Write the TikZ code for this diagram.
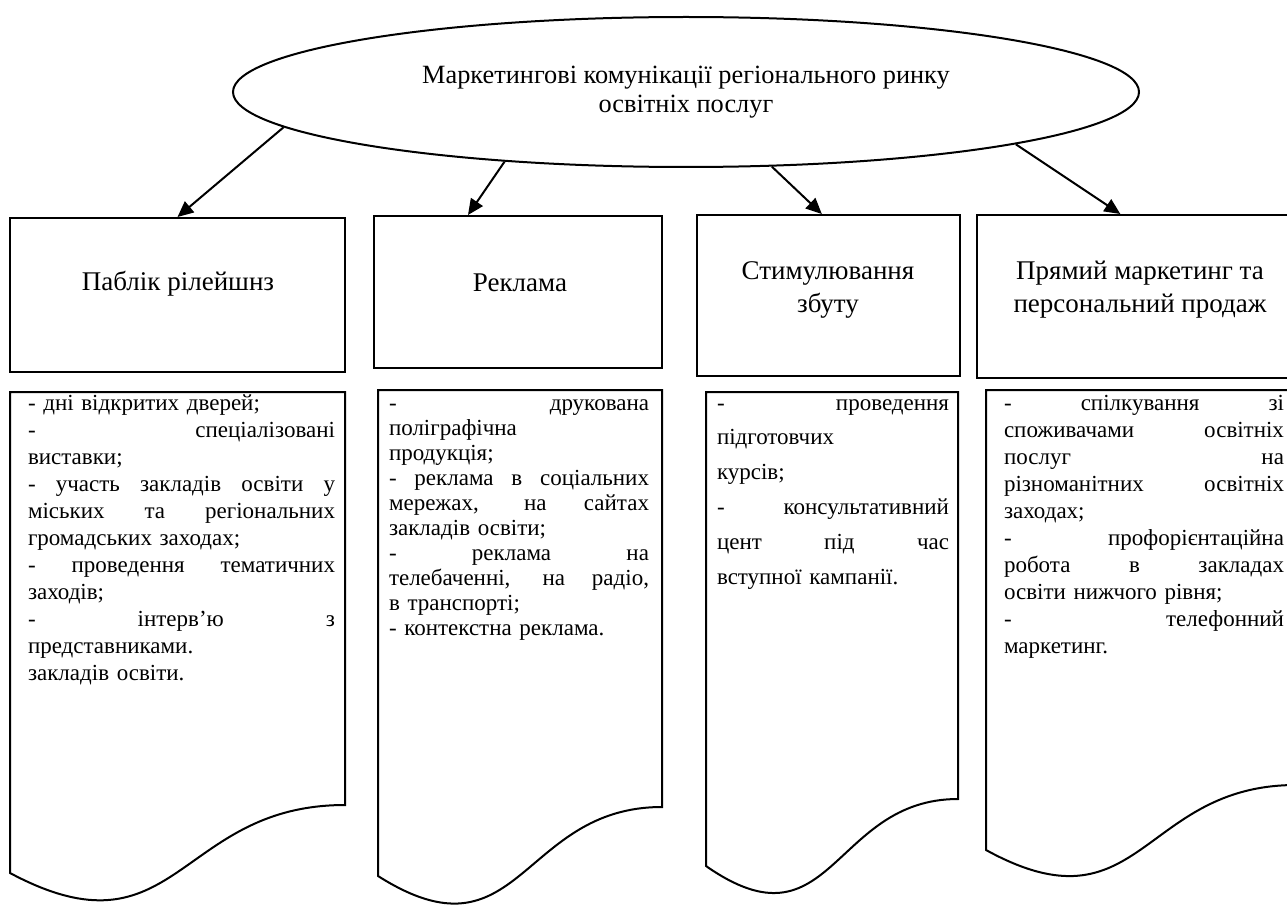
\documentclass[tikz,border=0pt]{standalone}
\usepackage{fontspec}
\setmainfont{Liberation Serif}
\usetikzlibrary{shapes.geometric,arrows.meta}

\newlength{\px}\setlength{\px}{0.6pt}
% one justified line of a list
\newcommand{\jl}[1]{\makebox[\hsize][s]{\spaceskip=0pt\xspaceskip=0pt #1}\\}

\begin{document}
\begin{tikzpicture}[x=0.6pt, y=-0.6pt,
    line width=1.2pt,
    ell/.style={draw, ellipse, minimum width=906\px, minimum height=150\px, inner sep=0pt,
        align=center, font=\fontsize{15.8}{17.4}\selectfont},
    head/.style={draw, rectangle, inner sep=0pt},
    headtext/.style={align=center, font=\fontsize{16.2}{19.8}\selectfont},
    list/.style={anchor=base west, align=left, inner sep=0pt, font=\fontsize{13.8}{16.2}\selectfont},
    arr/.style={-{Triangle[length=9.5pt, width=8.5pt]}}]
    \useasboundingbox (0,0) rectangle (1287,907);

    % top
    \node[ell] (mc) at (686,92) {Маркетингові комунікації регіонального ринку\\освітніх послуг};

    % four kinds
    \node[head, minimum width=335\px, minimum height=154\px] (pr) at (177.5,295) {};
    \node[head, minimum width=288\px, minimum height=152\px] (rk) at (518,292) {};
    \node[head, minimum width=263\px, minimum height=161\px] (sz) at (828.5,295.5) {};
    \node[head, minimum width=320\px, minimum height=163\px] (pm) at (1137,296.5) {};
    \node[headtext] (prt) at (178,284) {Паблік рілейшнз};
    \node[headtext] (rkt) at (520,283) {Реклама};
    \node[headtext] (szt) at (828,290) {Стимулювання\\збуту};
    \node[headtext] (pmt) at (1140,290) {Прямий маркетинг та\\персональний продаж};

    \draw[arr] (mc.185) -- (pr.north);
    \draw[arr] (mc.201.6) -- ([xshift=-30pt]rk.north);
    \draw[arr] (mc.319) -- ([xshift=-4pt]sz.north);
    \draw[arr] (mc.351.6) -- ([xshift=-10pt]pm.north);

    % document sheets with wavy bottom
    \draw (10,392) -- (345,392) -- (345,805) .. controls (177,805) and (177,962) .. (10,873) -- cycle;
    \draw (378,390) -- (662,390) -- (662,807) .. controls (520,807) and (520,966) .. (378,876) -- cycle;
    \draw (706,392) -- (958,392) -- (958,799) .. controls (832,799) and (832,954) .. (706,866) -- cycle;
    \draw (986,390) -- (1296,390) -- (1296,785) .. controls (1141,785) and (1141,935) .. (986,850) -- cycle;

    \node[list, text width=307\px] (prl) at (27,410) {- дні відкритих дверей;\\
        \jl{- спеціалізовані}
        виставки;\\
        \jl{- участь закладів освіти у}
        \jl{міських та регіональних}
        громадських заходах;\\
        \jl{- проведення тематичних}
        заходів;\\
        \jl{- інтерв’ю з}
        представниками.\\
        закладів освіти.};
    \node[list, text width=260\px, font=\fontsize{13.8}{15}\selectfont] (rkl) at (388,410) {\jl{- друкована}
        поліграфічна\\
        продукція;\\
        \jl{- реклама в соціальних}
        \jl{мережах, на сайтах}
        закладів освіти;\\
        \jl{- реклама на}
        \jl{телебаченні, на радіо,}
        в транспорті;\\
        - контекстна реклама.};
    \node[list, text width=232\px, font=\fontsize{13.8}{20.9}\selectfont] (szl) at (716,410) {\jl{- проведення}
        підготовчих\\
        курсів;\\
        \jl{- консультативний}
        \jl{цент під час}
        вступної кампанії.};
    \node[list, text width=280\px] (pml) at (1003,410) {\jl{- спілкування зі}
        \jl{споживачами освітніх}
        \jl{послуг на}
        \jl{різноманітних освітніх}
        заходах;\\
        \jl{- профорієнтаційна}
        \jl{робота в закладах}
        освіти нижчого рівня;\\
        \jl{- телефонний}
        маркетинг.};
\end{tikzpicture}
\end{document}
